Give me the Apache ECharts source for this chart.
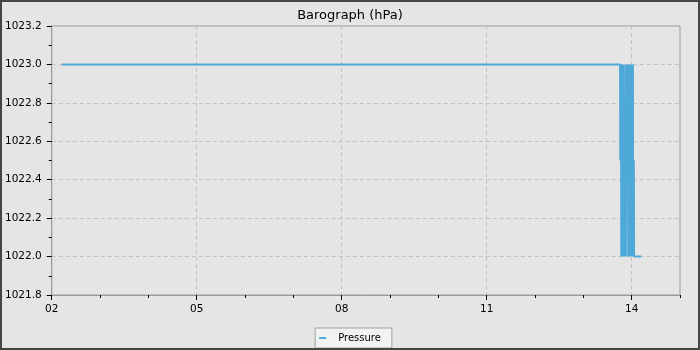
<!DOCTYPE html>
<html>
<head>
<meta charset="utf-8">
<script src="https://cdn.jsdelivr.net/npm/echarts@6/dist/echarts.min.js"></script>
<style>
html,body{margin:0;padding:0;background:#454545;width:700px;height:350px;overflow:hidden;}
#chart{position:absolute;left:2px;top:2px;width:696px;height:346px;background:#e5e5e5;}
</style>
</head>
<body>
<div id="chart"></div>
<script>
// Time in days of month, pressure in hPa
const days = [2.206, 4.0, 6.0, 8.0, 10.0, 12.0, 13.760,
  13.765, 13.770, 13.775, 13.780, 13.785, 13.790, 13.795, 13.800, 13.805, 13.810,
  13.815, 13.820, 13.825, 13.830, 13.835, 13.840, 13.845, 13.850, 13.855, 13.860,
  13.865, 13.870, 13.875, 13.880, 13.885, 13.890, 13.895, 13.900, 13.905, 13.910,
  13.915, 13.920, 13.925, 13.930, 13.935, 13.940, 13.945, 13.950, 13.955, 13.960,
  13.965, 13.970, 13.975, 13.980, 13.985, 13.990, 13.995, 14.000, 14.005, 14.010,
  14.015, 14.020, 14.025, 14.030, 14.035, 14.040, 14.045, 14.050, 14.196];
const pressure = [1023.0, 1023.0, 1023.0, 1023.0, 1023.0, 1023.0, 1023.0,
  1022.5, 1023.0, 1022.5, 1023.0, 1022.0, 1023.0, 1022.5, 1022.0, 1023.0, 1022.0,
  1023.0, 1022.5, 1022.0, 1023.0, 1022.0, 1022.5, 1022.0, 1022.5, 1022.0, 1022.5,
  1022.0, 1022.5, 1023.0, 1022.0, 1022.5, 1023.0, 1022.5, 1023.0, 1022.5, 1023.0,
  1022.5, 1023.0, 1022.5, 1022.0, 1023.0, 1022.0, 1022.5, 1023.0, 1022.0, 1023.0,
  1022.5, 1022.0, 1023.0, 1022.0, 1023.0, 1022.5, 1022.0, 1023.0, 1022.0, 1023.0,
  1022.5, 1022.0, 1023.0, 1022.0, 1022.5, 1022.0, 1022.5, 1022.0, 1022.0];
const xMajorTicks = [2, 5, 8, 11, 14];
const yTicks = [1021.8, 1022.0, 1022.2, 1022.4, 1022.6, 1022.8, 1023.0, 1023.2];
const titleText = 'Barograph (hPa)';
const seriesName = 'Pressure';

const FONT = 'DejaVu Sans';
const chart = echarts.init(document.getElementById('chart'), null, {renderer: 'canvas'});
const data = days.map((d, i) => [d, pressure[i]]);

chart.setOption({
  animation: false,
  backgroundColor: '#e5e5e5',
  textStyle: {fontFamily: FONT},
  title: {
    text: titleText, left: 'center', top: 2,
    textStyle: {fontFamily: FONT, fontSize: 13, fontWeight: 'normal', color: '#000'}
  },
  legend: {
    data: [seriesName], bottom: 0, left: 'center',
    icon: 'rect', itemWidth: 7, itemHeight: 2, itemGap: 8,
    padding: [5, 11, 5, 4],
    backgroundColor: '#f2f2f2', borderColor: '#a0a0a0', borderWidth: 1, borderRadius: 0,
    textStyle: {fontFamily: FONT, fontSize: 10, color: '#000', padding: [0, 0, 0, 7]}
  },
  grid: {left: 48, right: 18, top: 24, bottom: 53, show: true, borderColor: '#9a9a9a', borderWidth: 1, backgroundColor: 'transparent'},
  xAxis: [{
    type: 'value', min: 2, max: 15, interval: 3,
    axisLine: {show: true, lineStyle: {color: '#9a9a9a', width: 1}},
    axisTick: {show: true, length: 5, lineStyle: {color: '#000'}, customValues: xMajorTicks},
    axisLabel: {customValues: xMajorTicks, margin: 9, color: '#000', fontSize: 10.5, fontFamily: FONT,
      formatter: v => String(Math.round(v)).padStart(2, '0')},
    splitLine: {show: true, lineStyle: {color: '#c2c2c2', type: [4, 3], width: 1}}
  }, {
    type: 'value', min: 2, max: 15, interval: 1, position: 'bottom',
    axisLine: {show: false}, axisLabel: {show: false}, splitLine: {show: false},
    axisTick: {show: true, length: 3, lineStyle: {color: '#000'}}
  }],
  yAxis: {
    type: 'value', min: yTicks[0], max: yTicks[yTicks.length - 1], interval: 0.2,
    axisLine: {show: true, lineStyle: {color: '#9a9a9a', width: 1}},
    axisTick: {show: true, length: 5, lineStyle: {color: '#000'}},
    minorTick: {show: true, splitNumber: 2, length: 3, lineStyle: {color: '#000'}},
    axisLabel: {margin: 10, color: '#000', fontSize: 10.5, fontFamily: FONT, formatter: v => v.toFixed(1)},
    splitLine: {show: true, lineStyle: {color: '#c2c2c2', type: [4, 3], width: 1}}
  },
  series: [{
    name: seriesName, type: 'line', xAxisIndex: 0, data: data,
    showSymbol: false, symbol: 'none',
    lineStyle: {color: '#4ea8d8', width: 2},
    itemStyle: {color: '#4ea8d8'}
  }]
});
</script>
</body>
</html>
